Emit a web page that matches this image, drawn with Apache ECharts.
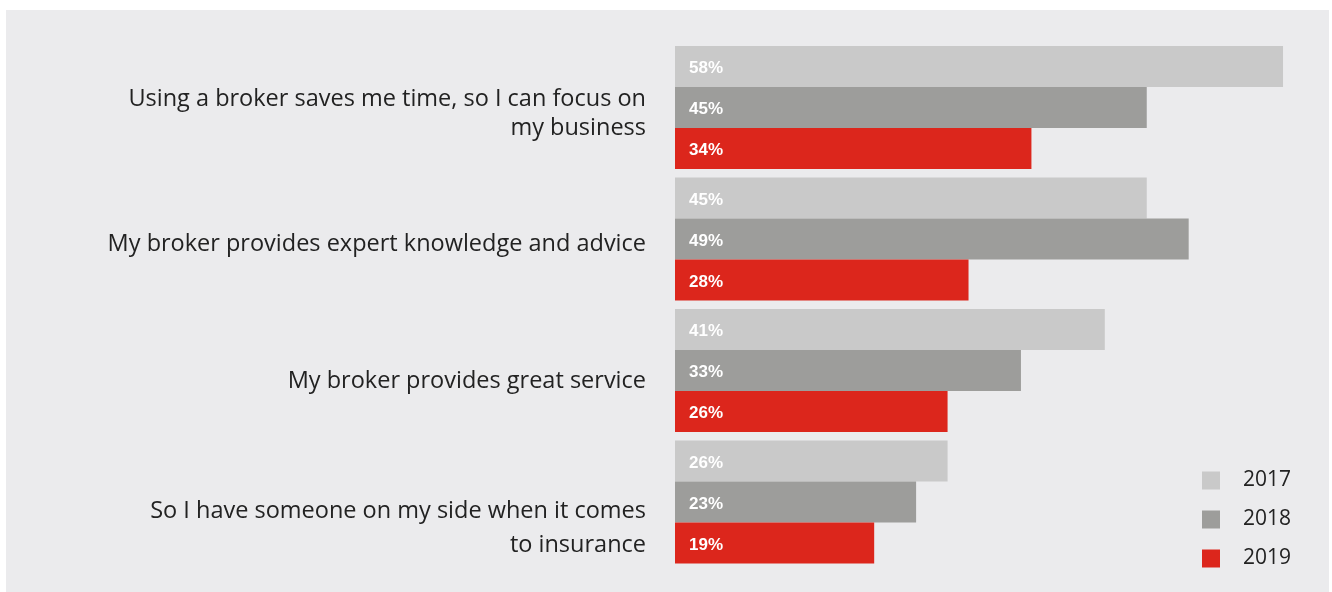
<!DOCTYPE html>
<html>
<head>
<meta charset="utf-8">
<script src="https://cdn.jsdelivr.net/npm/echarts@6/dist/echarts.min.js"></script>
<style>
  html, body { margin: 0; padding: 0; background: #ffffff; }
  #chart { width: 1332px; height: 592px; }
</style>
</head>
<body>
<div id="chart"></div>
<script>
// Reasons for using a broker, share of respondents by survey year
const categories = [
  'Using a broker saves me time, so I can focus on\nmy business',
  'My broker provides expert knowledge and advice',
  'My broker provides great service',
  'So I have someone on my side when it comes\nto insurance'
];
const years = ['2017', '2018', '2019'];
const values2017 = [58, 45, 41, 26];
const values2018 = [45, 49, 33, 23];
const values2019 = [34, 28, 26, 19];

const colors = ['#c9c9c9', '#9d9d9b', '#dc261c'];

// downward nudge (px) and line height for each category label
const labelNudge = [6.5, 5, 11, 26];
const labelLineHeight = [29, 29, 29, 34];

const catFont = 'Open Sans';
const catSize = 23.5;

const rich = {};
labelNudge.forEach((d, i) => {
  rich['s' + i] = { lineHeight: d * 2, fontSize: 1, color: 'transparent' };
  rich['t' + i] = {
    lineHeight: labelLineHeight[i],
    fontFamily: catFont,
    fontSize: catSize,
    color: '#222222',
    align: 'right'
  };
});

const chart = echarts.init(document.getElementById('chart'), null, { renderer: 'canvas' });

const seriesValues = [values2017, values2018, values2019];

const option = {
  animation: false,
  backgroundColor: '#ffffff',
  graphic: [{
    type: 'rect',
    z: -10,
    silent: true,
    shape: { x: 6, y: 10, width: 1323, height: 582 },
    style: { fill: '#ebebed' }
  }],
  grid: { left: 675, right: 28, top: 41.75, height: 526 },
  legend: {
    orient: 'vertical',
    left: 1202,
    top: 470,
    padding: 0,
    itemWidth: 18,
    itemHeight: 18,
    itemGap: 18,
    icon: 'rect',
    data: years,
    textStyle: {
      fontFamily: catFont,
      fontSize: 21,
      color: '#222222',
      padding: [0, 0, 0, 18],
      lineHeight: 18
    }
  },
  xAxis: {
    type: 'value',
    min: 0,
    max: 60,
    show: false
  },
  yAxis: {
    type: 'category',
    inverse: true,
    data: categories,
    axisLine: { show: false },
    axisTick: { show: false },
    splitLine: { show: false },
    axisLabel: {
      margin: 29,
      align: 'right',
      fontFamily: catFont,
      fontSize: catSize,
      color: '#222222',
      formatter: (value, index) =>
        '{s' + index + '| }\n' +
        value.split('\n').map(line => '{t' + index + '|' + line + '}').join('\n'),
      rich: rich
    }
  },
  series: years.map((y, i) => ({
    name: y,
    type: 'bar',
    data: seriesValues[i],
    barGap: '0%',
    barCategoryGap: '6.5%',
    itemStyle: { color: colors[i] },
    label: {
      show: true,
      position: 'insideLeft',
      distance: 14,
      offset: [0, 2],
      formatter: '{c}%',
      color: '#ffffff',
      fontFamily: 'Liberation Sans, Arial, sans-serif',
      fontWeight: 'bold',
      fontSize: 17
    }
  }))
};

chart.setOption(option);
</script>
</body>
</html>
